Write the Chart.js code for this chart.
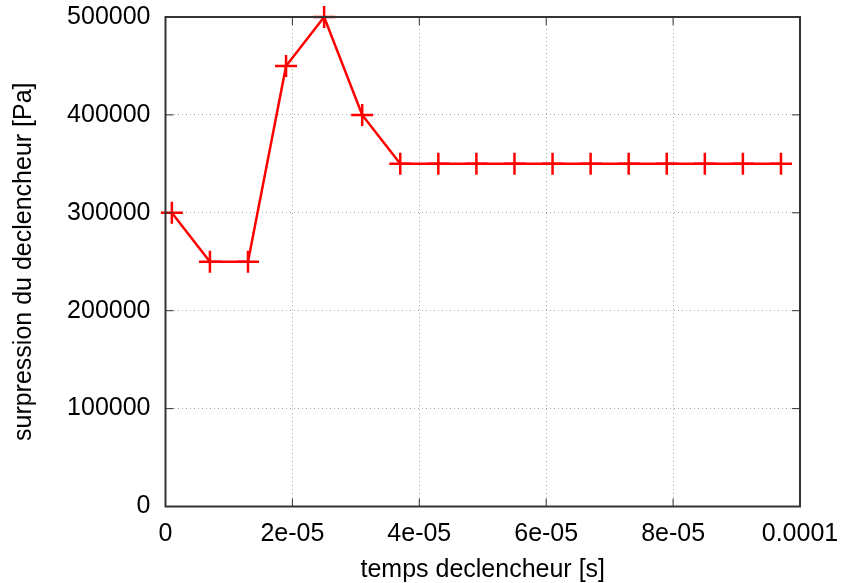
<!DOCTYPE html>
<html lang="fr">
<head>
  <meta charset="UTF-8">
  <title>surpression du declencheur</title>
  <script src="https://cdn.jsdelivr.net/npm/chart.js"></script>
  <style>
    body { margin: 0; background: #fff; }
    .box { width: 842px; height: 583px; position: relative; }
  </style>
</head>
<body>
  <div class="box"><canvas id="plot"></canvas></div>
  <script>
    // temps [s] et surpression [Pa]
    const temps = [1e-6, 7e-6, 13e-6, 19e-6, 25e-6, 31e-6, 37e-6, 43e-6, 49e-6,
                   55e-6, 61e-6, 67e-6, 73e-6, 79e-6, 85e-6, 91e-6, 97e-6];
    const surpression = [300000, 250000, 250000, 450000, 500000, 400000, 350000, 350000, 350000,
                         350000, 350000, 350000, 350000, 350000, 350000, 350000, 350000];
    const xTickLabels = ['0', '2e-05', '4e-05', '6e-05', '8e-05', '0.0001'];
    const yTickLabels = ['0', '100000', '200000', '300000', '400000', '500000'];

    const font = { family: '"Liberation Sans", Arial, sans-serif', size: 25 };

    // cadre + petites graduations vers l'intérieur (style gnuplot)
    const frame = {
      id: 'frame',
      afterDraw(chart) {
        const { ctx, chartArea: a } = chart;
        const xs = chart.scales.x, ys = chart.scales.y;
        const len = 8;
        ctx.save();
        ctx.strokeStyle = '#333';
        ctx.lineWidth = 1;
        ctx.beginPath();
        xs.ticks.forEach(t => {
          const px = xs.getPixelForValue(t.value);
          ctx.moveTo(px, a.bottom); ctx.lineTo(px, a.bottom - len);
          ctx.moveTo(px, a.top); ctx.lineTo(px, a.top + len);
        });
        ys.ticks.forEach(t => {
          const py = ys.getPixelForValue(t.value);
          ctx.moveTo(a.left, py); ctx.lineTo(a.left + len, py);
          ctx.moveTo(a.right, py); ctx.lineTo(a.right - len, py);
        });
        ctx.stroke();
        ctx.lineWidth = 2;
        ctx.strokeRect(a.left, a.top, a.right - a.left, a.bottom - a.top);
        ctx.restore();
      }
    };

    const noPad = s => {
      s.paddingTop = 0; s.paddingBottom = 0; s.paddingLeft = 0; s.paddingRight = 0;
    };

    new Chart(document.getElementById('plot'), {
      type: 'line',
      data: {
        datasets: [{
          data: temps.map((t, i) => ({ x: t, y: surpression[i] })),
          borderColor: '#ff0000',
          backgroundColor: '#ff0000',
          borderWidth: 2.5,
          pointStyle: 'cross',
          pointRadius: 11,
          pointBorderWidth: 2.5,
          pointBorderColor: '#ff0000',
          tension: 0,
          clip: false
        }]
      },
      options: {
        responsive: true,
        maintainAspectRatio: false,
        animation: false,
        layout: { padding: { left: 0, top: 17, right: 42, bottom: 0 } },
        plugins: { legend: { display: false }, tooltip: { enabled: false } },
        scales: {
          x: {
            type: 'linear',
            min: 0,
            max: 0.0001,
            afterFit: s => { s.height = 76.5; noPad(s); },
            ticks: {
              stepSize: 0.00002,
              padding: 13,
              color: '#000',
              font,
              maxRotation: 0,
              callback: (v, i) => xTickLabels[i]
            },
            grid: { color: '#aaa', lineWidth: 1, drawTicks: false },
            border: { display: false, dash: [1, 3] },
            title: {
              display: true,
              text: 'temps declencheur [s]',
              color: '#000',
              font: { ...font, lineHeight: 1 },
              padding: { top: 0, bottom: 0 }
            }
          },
          y: {
            min: 0,
            max: 500000,
            afterFit: s => { s.width = 165.5; noPad(s); },
            ticks: {
              stepSize: 100000,
              padding: 15,
              color: '#000',
              font,
              callback: (v, i) => yTickLabels[i]
            },
            grid: { color: '#aaa', lineWidth: 1, drawTicks: false },
            border: { display: false, dash: [1, 3] },
            title: {
              display: true,
              text: 'surpression du declencheur [Pa]',
              color: '#000',
              font: { ...font, lineHeight: 1 },
              padding: { top: 12, bottom: 0 }
            }
          }
        }
      },
      plugins: [frame]
    });
  </script>
</body>
</html>
